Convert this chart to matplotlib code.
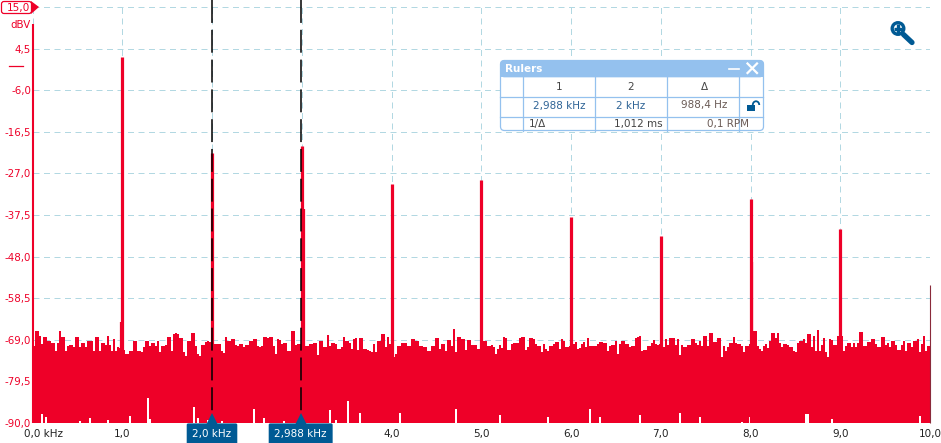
import numpy as np
import matplotlib
matplotlib.use("Agg")
import matplotlib.pyplot as plt
from matplotlib.patches import FancyBboxPatch, Rectangle, Circle, Polygon, Arc

plt.rcParams['font.family'] = ['DejaVu Sans']

RED = '#EE0028'
BLUE = '#005A94'
GRID = '#B2D8E2'
PANEL = '#94C1EE'

# Noise floor top, dBV, one value per spectrum bin, 0 to 10 kHz
noise_a = [-70.9,-70.6,-66.7,-66.7,-68,-70.1,-68.3,-68.3,-69.4,-69.4,-69.9,-69.9,-71.8,-69.9,-66.7,-68.4,-68.4,-71.8,
           -70.5,-70.2,-70.4,-70.9,-68.4,-68.4,-70.7,-69.8,-69.8,-70.9,-69.4,-69.4,-69.4,-71.8,-68.4,-68.4,-71.8,-69.7,
           -69.7,-70.3,-68,-70.4,-71.8,-68.8,-71.8,-70.9,-71,-71,-71.5,-72.6,-72.6,-71.8,-71.8,-69.4,-69.4,-71.8,-71.8,
           -72.2,-70.9,-69.4,-69.4,-70.6,-69.8,-69.8,-70.6,-69.2,-72.2,-70.6,-70.6,-70.2,-68.4,-68.4,-71.8,-67.6,-67.4,-67.5]
noise_b = [-68.6,-68.6,-72.2,-73,-69.4,-69.4,-67.4,-67.4,-70.5,-72.6,-73.2,-70.3,-70.3,-69.5,-69.4,-69.6,-69.6,-70.1,-70,
           -70,-70.1,-71.8,-72.4,-68.4,-69.3,-69.2,-68.7,-68.7,-70.3,-70.5,-70.1,-70.1,-70.9,-70.3,-70.3,-69.3,-69.3,-68.7,
           -68.7,-70.6,-70.8,-70.5,-68.4,-68.4,-68.6,-68.4,-68.4,-70.6,-72.6,-68.8,-69,-70.1,-69.7,-69.7,-71.8,-71.8,-66.9,
           -66.9,-70.3,-70.1,-70.1,-70,-70,-70.6,-70.6,-70.1,-70,-69.7,-69.7,-72.8,-69.3,-69.3,-70.9,-70.9,-67.8,-70.5]
noise_c = [-69.8,-69.8,-70,-71.4,-71.4,-70.7,-68.4,-69.3,-69.4,-69.7,-71.3,-68.8,-68.5,-71.5,-68.5,-68.5,-71.2,-71.4,
           -71.5,-71.8,-72.2,-70,-72.2,-69.3,-69.3,-67.6,-67.6,-70.9,-68.4,-70,-70,-73.4,-72.6,-70.6,-70.6,-69.7,-69.7,-69.7,
           -70.5,-70.5,-68.7,-68.7,-69.3,-69.3,-70.6,-70.6,-70.9,-70.9,-71.8,-71.8,-70.5,-70.5,-68.5,-68.5,-71.4,-70.1,-70.1,
           -71.8,-69,-69,-70.5,-66.2,-72,-68.2,-68.2,-68.8,-68.8,-71.5,-69,-69,-70.3,-70.3,-70.3,-71.4,-71.4]
noise_d = [-70,-69.4,-69.4,-70.5,-70.5,-70.3,-70.8,-72.6,-71.4,-70.3,-71,-68.3,-68.6,-71.6,-71.5,-70.1,-69.7,-69.7,-69.7,
           -68.6,-68.2,-68.2,-71.5,-70.9,-68.6,-68.6,-68.8,-70.1,-70.5,-70.5,-72,-70.1,-71.4,-71.8,-70.5,-70.5,-70.1,-69.5,
           -69.6,-71.4,-68.8,-69.3,-70.9,-70.9,-70.5,-70,-70.1,-69.5,-71.2,-71,-70.1,-69.5,-70.9,-68.6,-70.6,-70.6,-70.6,
           -70.6,-70.1,-69.5,-69.5,-69.7,-69.7,-71.8,-70.6,-70.3,-70.3,-69.3,-72.6,-70.1,-69.3,-69.3,-70.1,-70.1,-70.7]
noise_e = [-70.5,-70.5,-68.6,-68.2,-68,-71.8,-71.5,-71.5,-70.6,-70.6,-69.8,-69,-70,-70.2,-70,-70,-70.9,-68.8,-70.3,-68.5,
           -68.5,-68.5,-70.3,-68.8,-72.8,-70.2,-70.9,-70.9,-70.3,-70.3,-68.7,-68.7,-69.7,-70.3,-69.3,-70.5,-68,-68,-70.5,-67.4,
           -67.4,-69.5,-69.5,-68.5,-68.5,-73.4,-70.6,-71.8,-70.9,-69.7,-69.7,-68.3,-69.7,-70.1,-70.1,-70.5,-72.2,-70.5,-70.5,
           -70,-70,-66.7,-66.7,-70.6,-71.4,-71.8,-70.6,-70.1,-71,-69.3,-67.3,-67.3,-68.6,-67.3,-69.7]
noise_f = [-70.8,-70.1,-70.1,-70.3,-70.7,-70.7,-71.8,-72.2,-69.7,-69.3,-69.3,-68.7,-69.9,-67.6,-67.6,-70.9,-68,-71.8,-66.5,
           -71.8,-70.3,-68.5,-72.2,-73.4,-68.9,-69,-70.3,-70.3,-68.1,-68,-68,-71.8,-70.5,-69.7,-69.7,-70.7,-69.7,-70.7,-69.7,
           -67.1,-67.1,-70.5,-70.5,-69.5,-69.5,-68.8,-68.8,-70.1,-70.9,-70.7,-68.4,-68.4,-70.3,-69.9,-70.9,-69.3,-69.3,-70.3,
           -71.5,-71.5,-70.3,-69.3,-71.8,-69.7,-69.7,-70.7,-69.3,-69.3,-68.8,-72.2,-70.1,-68,-71.8,-70.5,-70.5]
noise_top = noise_a + noise_b + noise_c + noise_d + noise_e + noise_f

# Places where the lower envelope lifts above the -90 dBV floor
gap_freqs = [0.11,0.16,0.53,0.64,0.84,1.09,1.29,1.31,1.81,1.85,1.95,2.12,2.47,2.58,2.81,3.31,3.39,3.53,
             3.65,4.09,4.73,5.21,5.75,6.21,6.32,6.77,7.21,7.44,7.91,8.0,8.62,8.64,8.91,9.89]
gap_levels = [-87.7,-88.5,-89.5,-88.7,-89.2,-88.2,-83.7,-89,-86,-88.7,-89.2,-89.5,-86.5,-88.7,-89.5,-86.7,-89.2,-84.5,
              -87.5,-87.5,-86.5,-88,-88.5,-86.5,-88.5,-88,-87.5,-88.5,-89.7,-88.5,-87.7,-87.7,-89,-88.2]

# Harmonic peaks
peak_freqs = [1.0,2.0,3.0,4.0,5.0,6.0,7.0,8.0,9.0,10.0]
peak_levels = [2.3,-21.8,-20.0,-29.7,-28.7,-38.0,-42.8,-33.5,-41.0,-55.2]
shoulder_freqs = [0.99,3.02,8.02]
shoulder_levels = [-64.5,-36.0,-49.4]

y_ticks = [15,4.5,-6,-16.5,-27,-37.5,-48,-58.5,-69,-79.5,-90]
y_tick_labels = ['','4,5','-6,0','-16,5','-27,0','-37,5','-48,0','-58,5','-69,0','-79,5','-90,0']
x_ticks = [0,1,2,3,4,5,6,7,8,9,10]
x_tick_labels = ['','1,0','','','4,0','5,0','6,0','7,0','8,0','9,0','10,0']
ruler_freqs = [2.0,2.988]
ruler_labels = ['2,0 kHz','2,988 kHz']

W, H = 941, 443
fig = plt.figure(figsize=(W/100, H/100), dpi=100, facecolor='white')
L, R, T, B = 32.5, 930, 7, 423
ax = fig.add_axes([L/W, 1-B/H, (R-L)/W, (B-T)/H])
ax.set_xlim(0, 10)
ax.set_ylim(-90, 15)
for s in ax.spines.values():
    s.set_visible(False)

ax.set_yticks(y_ticks)
ax.set_yticklabels(y_tick_labels, color=RED, fontsize=7.4)
ax.set_xticks(x_ticks)
ax.set_xticklabels(x_tick_labels, color='#222222', fontsize=7.5)
ax.tick_params(axis='both', length=0)
ax.tick_params(axis='y', pad=1)
ax.tick_params(axis='x', pad=4.2)
ax.grid(True, color=GRID, lw=0.72, ls=(0, (6, 4.5)), zorder=0)
ax.set_axisbelow(True)

# noise
n = len(noise_top)
freqs = np.linspace(0, 10, n)
step = freqs[1]-freqs[0]
floor = np.full(n, -90.0)
for f, lv in zip(gap_freqs, gap_levels):
    floor[int(np.argmin(np.abs(freqs-f)))] = lv
top = np.array(noise_top)
ax.bar(freqs, top-floor, bottom=floor, width=step, color=RED, linewidth=0, zorder=2, antialiased=False)

# peaks
ax.vlines(shoulder_freqs, -90, shoulder_levels, color=RED, lw=1.6, zorder=3)
ax.vlines(peak_freqs[:-1], -90, peak_levels[:-1], color=RED, lw=2.3, zorder=3)
ax.vlines(peak_freqs[-1:], -90, peak_levels[-1:], color='#8A2A3A', lw=0.8, zorder=3, clip_on=False)

# rulers
ytop = 15+7*(105/416)
for rf, rl in zip(ruler_freqs, ruler_labels):
    ax.plot([rf, rf], [ytop, -90], color='black', lw=1.1, ls=(0, (15, 4.5)), clip_on=False, zorder=5)
    ax.plot([rf], [-89.2], marker='^', ms=10, color=BLUE, mew=0, clip_on=False, zorder=6)
    ax.annotate(rl, xy=(rf, -90), xytext=(0, -8.0), textcoords='offset points', ha='center', va='center',
                color='white', fontsize=7.5, zorder=7, annotation_clip=False,
                bbox=dict(boxstyle='round,pad=0.55,rounding_size=0.15', fc=BLUE, ec=BLUE, lw=0))

# interface overlay in pixel coordinates
ui = fig.add_axes([0, 0, 1, 1], facecolor='none')
ui.set_xlim(0, W)
ui.set_ylim(H, 0)
ui.axis('off')

# left axis
ui.plot([33, 33], [24, 423], color=RED, lw=1.5, solid_capstyle='butt')
ui.plot([9, 23], [66, 66], color=RED, lw=0.9)
ui.text(31, 25, 'dBV', color=RED, fontsize=7.4, ha='right', va='center')
ui.add_patch(FancyBboxPatch((1.5, 1.5), 30, 12, boxstyle='round,pad=0,rounding_size=2.5', fc='white', ec=RED, lw=0.9))
ui.add_patch(Polygon([[31, 1], [39, 7], [31, 14]], closed=True, fc=RED, ec=RED, lw=0))
ui.text(30.5, 7.5, '15,0', color=RED, fontsize=7.6, ha='right', va='center')
ui.text(24, 434, '0,0 kHz', color='#222222', fontsize=7.5, ha='left', va='center')

# zoom icon
ui.add_patch(Circle((898, 28.5), 5.8, fc='white', ec=BLUE, lw=2.4))
ui.plot([893.8, 902.2], [28.5, 28.5], color=BLUE, lw=2.4, solid_capstyle='butt')
ui.plot([898, 898], [24.3, 32.7], color=BLUE, lw=2.4, solid_capstyle='butt')
ui.plot([903.5, 912], [34.5, 42.5], color=BLUE, lw=3.8, solid_capstyle='round')

# rulers panel
ui.add_patch(FancyBboxPatch((500.5, 60.5), 263, 70, boxstyle='round,pad=0,rounding_size=4', fc='white', ec=PANEL, lw=0.9, zorder=3))
ui.add_patch(FancyBboxPatch((500.5, 60.5), 263, 16.5, boxstyle='round,pad=0,rounding_size=4', fc=PANEL, ec=PANEL, lw=0.5, zorder=3))
ui.add_patch(Rectangle((500.5, 70), 263, 7, fc=PANEL, ec=PANEL, lw=0, zorder=3))
for xc in [523.5, 595.5, 667.5, 739.5]:
    ui.plot([xc, xc], [77, 130.5], color=PANEL, lw=0.9, zorder=4)
for yc in [96.5, 116.5]:
    ui.plot([500.5, 763.5], [yc, yc], color=PANEL, lw=0.9, zorder=4)
ui.text(505.5, 68.5, 'Rulers', color='white', fontsize=7.5, fontweight='bold', ha='left', va='center', zorder=5)
ui.plot([729, 739], [68.5, 68.5], color='white', lw=1.2, zorder=5)
ui.plot([747.5, 757], [63.5, 73], color='white', lw=1.6, zorder=5)
ui.plot([747.5, 757], [73, 63.5], color='white', lw=1.6, zorder=5)
dark = '#444444'
blue_txt = '#2F6496'
brown = '#6A5A55'
ui.text(559, 86.5, '1', color=dark, fontsize=7.5, ha='center', va='center', zorder=5)
ui.text(631, 86.5, '2', color=dark, fontsize=7.5, ha='center', va='center', zorder=5)
ui.text(704, 86.5, 'Δ', color=dark, fontsize=7.5, ha='center', va='center', zorder=5)
ui.text(559, 106, '2,988 kHz', color=blue_txt, fontsize=7.5, ha='center', va='center', zorder=5)
ui.text(631, 106, '2 kHz', color=blue_txt, fontsize=7.5, ha='center', va='center', zorder=5)
ui.text(704, 105, '988,4 Hz', color=brown, fontsize=7.5, ha='center', va='center', zorder=5)
ui.text(529, 123.5, '1/Δ', color=dark, fontsize=7.5, ha='left', va='center', zorder=5)
ui.text(663, 123.5, '1,012 ms', color=dark, fontsize=7.5, ha='right', va='center', zorder=5)
ui.text(749, 123.5, '0,1 RPM', color=brown, fontsize=7.5, ha='right', va='center', zorder=5)
ui.add_patch(Rectangle((747.5, 105), 8, 6, fc=BLUE, ec=BLUE, lw=0, zorder=5))
ui.add_patch(Arc((756, 105), 6.5, 7.5, theta1=180, theta2=360, color=BLUE, lw=1.3, zorder=5))

fig.savefig('out.png', dpi=100, facecolor='white')
